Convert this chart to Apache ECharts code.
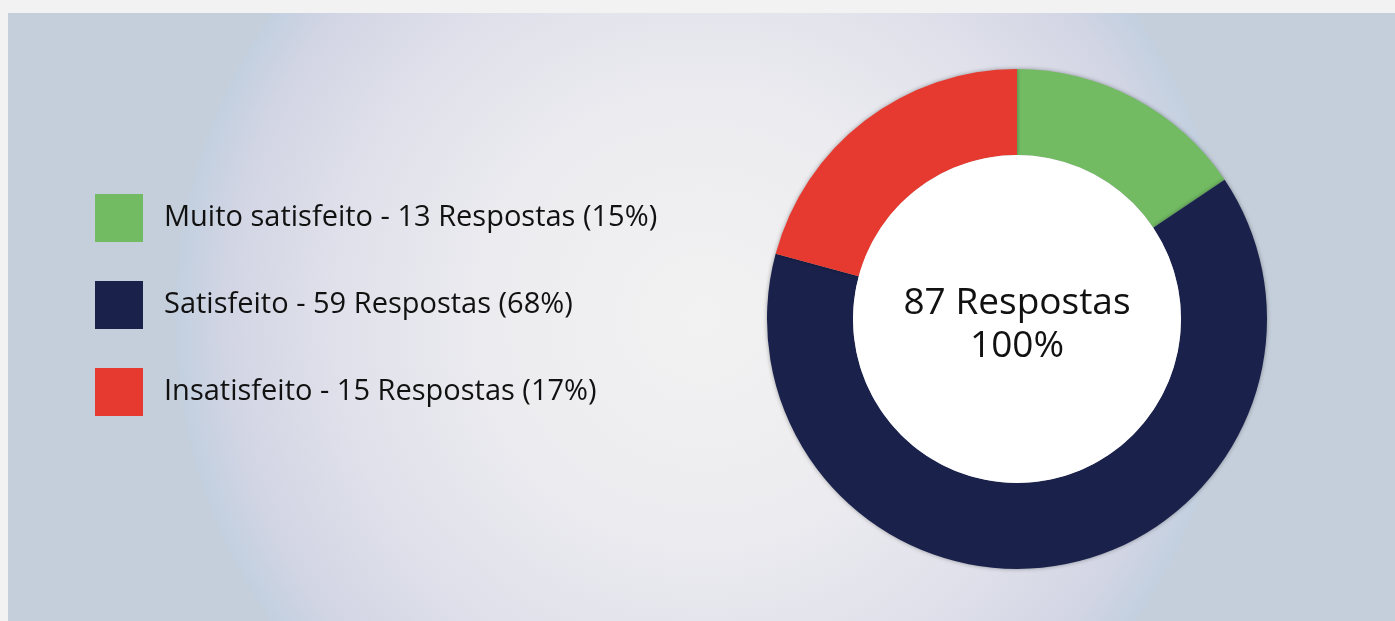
<!DOCTYPE html>
<html>
<head>
<meta charset="utf-8">
<script src="https://cdn.jsdelivr.net/npm/echarts@6/dist/echarts.min.js"></script>
<style>
  html, body { margin: 0; padding: 0; background: #f2f2f2; }
  #chart {
    position: absolute; left: 8px; top: 13px; width: 1387px; height: 608px;
    background: radial-gradient(circle 530px at 695px 305px, #f2f2f2 0%, #ececf0 40%, #dfe0ea 70%, #d2d5e4 90%, #c3d0e0 99%, #c5cfdb 100%);
  }
</style>
</head>
<body>
<div id="chart"></div>
<script>
var categories = ['Muito satisfeito', 'Satisfeito', 'Insatisfeito'];
var respostas = [13, 59, 15];
// share of the ring each slice takes in the picture (percent)
var fatias = [15.6, 63.6, 20.8];
var cores = ['#72bb63', '#1a224c', '#e6392f'];

var total = respostas.reduce(function (a, b) { return a + b; }, 0);

var myChart = echarts.init(document.getElementById('chart'));

var option = {
  legend: {
    orient: 'vertical',
    left: 87,
    top: 181,
    padding: 0,
    icon: 'rect',
    itemWidth: 48,
    itemHeight: 48,
    itemGap: 39,
    selectedMode: false,
    textStyle: {
      fontFamily: 'Open Sans',
      fontSize: 29,
      color: '#111',
      padding: [0, 0, 0, 16]
    },
    formatter: function (name) {
      var i = categories.indexOf(name);
      return name + ' - ' + respostas[i] + ' Respostas (' + Math.round(respostas[i] / total * 100) + '%)';
    },
    data: categories
  },
  graphic: [{
    type: 'text',
    x: 1009,
    y: 312,
    silent: true,
    z: 10,
    style: {
      text: total + ' Respostas\n100%',
      textAlign: 'center',
      textVerticalAlign: 'middle',
      fontFamily: 'Open Sans',
      fontSize: 37,
      lineHeight: 43,
      fill: '#111'
    }
  }],
  series: [
    {
      name: 'Satisfação',
      type: 'pie',
      center: [1009, 306],
      radius: [164, 250],
      startAngle: 90,
      silent: true,
      label: { show: false },
      labelLine: { show: false },
      itemStyle: {
        shadowBlur: 4,
        shadowColor: 'rgba(0,0,0,0.35)'
      },
      data: categories.map(function (c, i) {
        return { name: c, value: fatias[i], itemStyle: { color: cores[i] } };
      })
    },
    {
      name: 'centro',
      type: 'pie',
      center: [1009, 306],
      radius: [0, 164],
      silent: true,
      label: { show: false },
      labelLine: { show: false },
      data: [{ name: 'total', value: total, itemStyle: { color: '#fff' } }]
    }
  ]
};

myChart.setOption(option);
</script>
</body>
</html>
